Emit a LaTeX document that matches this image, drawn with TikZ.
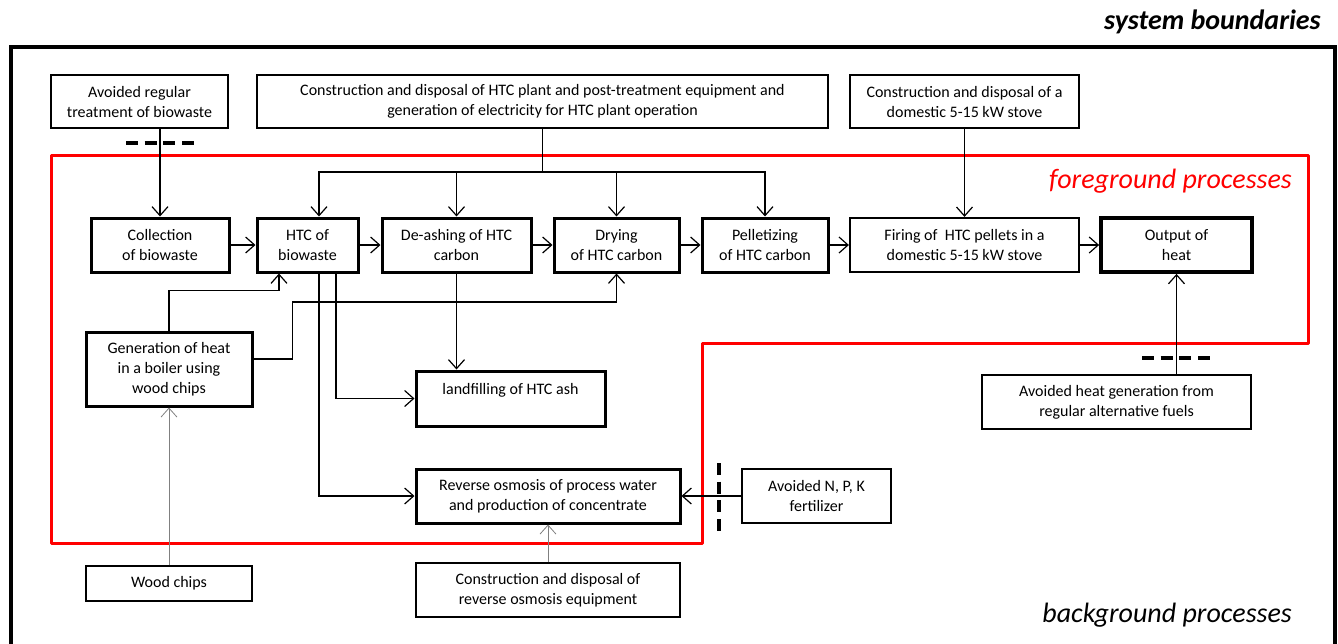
\documentclass[tikz,border=0pt]{standalone}
\usepackage{fontspec}
\setmainfont{Carlito}
\usetikzlibrary{arrows.meta}
\begin{document}
\begin{tikzpicture}[x=1pt,y=-1pt,
  bx/.style={draw, line width=1.5pt, inner sep=0pt, align=center, font=\fontsize{16}{20}\selectfont},
  tk/.style={bx, line width=3pt},
  vtk/.style={bx, line width=3.8pt},
  conn/.style={line width=1.2pt, -{Straight Barb[length=9pt,width=16pt,line width=1.2pt]}},
  gconn/.style={line width=1pt, draw=gray, -{Straight Barb[length=9pt,width=16pt,line width=0.8pt]}},
  bar/.style={line width=4.5pt, dash pattern=on 12pt off 6.7pt},
  big/.style={anchor=east, inner sep=0pt, font=\fontsize{28}{32}\selectfont\itshape},
]
\useasboundingbox (0,0) rectangle (1338,643);
\clip (0,0) rectangle (1338,643);
% frames
\draw[line width=4pt] (11,660) -- (11,47) -- (1335,47) -- (1335,660);
\draw[red, line width=3pt, line join=round] (51,155) -- (1308,155) -- (1308,343) -- (702,343) -- (702,543) -- (51,543) -- cycle;
% labels
\node[big, font=\fontsize{28}{32}\selectfont\bfseries\itshape] (sb) at (1321,22) {system boundaries};
\node[big, text=red] (fg) at (1292,181) {foreground processes};
\node[big] (bg) at (1292,615) {background processes};
% nodes
\node[bx, minimum width=177pt, minimum height=53pt] (avb) at (139.5,101.5) {Avoided regular\\treatment of biowaste};
\node[bx, minimum width=571pt, minimum height=53pt] (cons) at (542.5,101.5) {Construction and disposal of HTC plant and post-treatment equipment and\\generation of electricity for HTC plant operation};
\node[bx, minimum width=229pt, minimum height=53pt] (stc) at (964.5,101.5) {Construction and disposal of a\\domestic 5-15 kW stove};
\node[tk, minimum width=138pt, minimum height=54pt] (col) at (160,245) {Collection\\of biowaste};
\node[tk, minimum width=101pt, minimum height=54pt] (htc) at (307.5,245) {HTC of\\biowaste};
\node[tk, minimum width=149pt, minimum height=54pt] (dea) at (456.5,245) {De-ashing of HTC\\carbon};
\node[tk, minimum width=125pt, minimum height=54pt] (dry) at (616.5,245) {Drying\\of HTC carbon};
\node[tk, minimum width=126pt, minimum height=54pt] (pel) at (765,245) {Pelletizing\\of HTC carbon};
\node[bx, line width=2.2pt, minimum width=229pt, minimum height=54pt] (fir) at (964.5,245) {Firing of\ \ HTC pellets in a\\domestic 5-15 kW stove};
\node[vtk, minimum width=151pt, minimum height=54pt] (out) at (1176.5,245) {Output of\\heat};
\node[tk, minimum width=166pt, minimum height=74pt] (gen) at (169,369) {Generation of heat\\in a boiler using\\wood chips};
\node[tk, minimum width=189pt, minimum height=55pt] (lan) at (510.5,398.5) {landfilling of HTC ash\\\mbox{}};
\node[tk, minimum width=264pt, minimum height=54pt] (ro) at (548,496) {Reverse osmosis of process water\\and production of concentrate};
\node[bx, minimum width=149pt, minimum height=54pt] (npk) at (816.5,496) {Avoided N, P, K\\fertilizer};
\node[bx, minimum width=264pt, minimum height=54pt] (cro) at (548,590) {Construction and disposal of\\reverse osmosis equipment};
\node[bx, minimum width=166pt, minimum height=35pt] (wc) at (169,583.5) {Wood chips};
\node[bx, minimum width=269pt, minimum height=54pt] (avh) at (1116.5,402) {Avoided heat generation from\\regular alternative fuels};
% connectors
\coordinate (bus) at (0,172);
\draw[conn] (avb.south -| col.north) -- (col.north);
\draw[line width=1.2pt] (cons.south) -- (cons.south |- bus);
\draw[conn] (cons.south |- bus) -| ([xshift=11.5pt]htc.north);
\draw[conn] (cons.south |- bus) -| (dea.north);
\draw[conn] (cons.south |- bus) -| (dry.north);
\draw[conn] (cons.south |- bus) -| (pel.north);
\draw[conn] (stc.south) -- (fir.north);
\draw[conn] (col.east) -- (htc.west);
\draw[conn] (htc.east) -- (dea.west);
\draw[conn] (dea.east) -- (dry.west);
\draw[conn] (dry.east) -- (pel.west);
\draw[conn] (pel.east) -- (fir.west);
\draw[conn] (fir.east) -- (out.west);
\draw[conn] (gen.north) -- ++(0,-40) -| ([xshift=-28.5pt]htc.south);
\draw[conn] ([yshift=10pt]gen.east) -| ++(39,-57) -| (dry.south);
\draw[conn] ([xshift=28.5pt]htc.south) |- (lan.west);
\draw[conn] ([xshift=11.5pt]htc.south) |- (ro.west);
\draw[conn] (dea.south) -- (dea.south |- lan.north);
\draw[gconn] (wc.north) -- (gen.south);
\draw[gconn] (cro.north) -- (ro.south);
\draw[conn] (npk.west) -- (ro.east);
\draw[conn] (avh.north -| out.south) -- (out.south);
% avoided-burden bars
\draw[bar] (126,143) -- (194,143);
\draw[bar] (719,463) -- (719,531);
\draw[bar] (1142,358) -- (1211,358);
\end{tikzpicture}
\end{document}
